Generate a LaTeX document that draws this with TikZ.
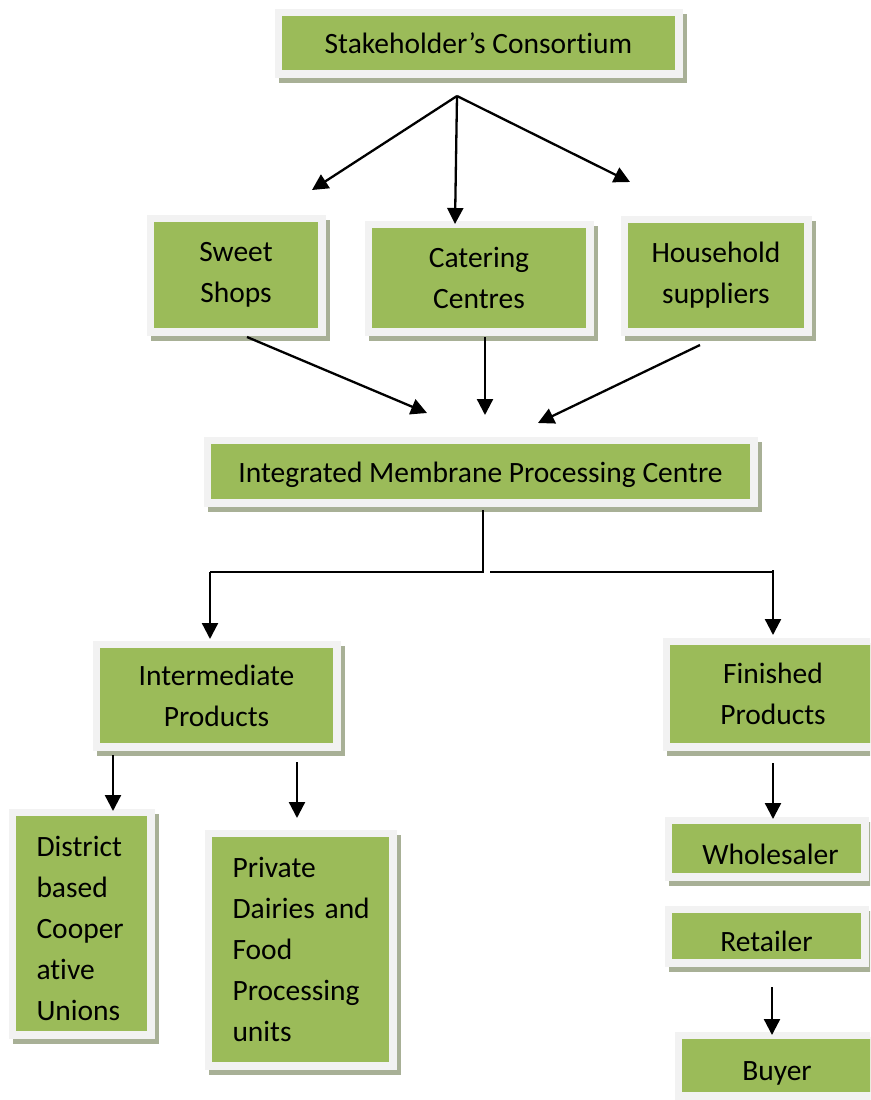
\documentclass[tikz,border=0pt]{standalone}
\usepackage{fontspec}
\setmainfont[Ligatures=NoCommon]{Carlito}
\usetikzlibrary{arrows.meta,shadows}
\definecolor{boxgreen}{RGB}{155,187,89}
\definecolor{framecol}{RGB}{242,242,242}
\definecolor{shadowcol}{RGB}{168,176,150}
\tikzset{
  box/.style 2 args={
    minimum width=#1pt, minimum height=#2pt, inner sep=0pt,
    fill=framecol, align=center,
    font=\fontsize{29.5}{41}\selectfont,
    drop shadow={shadow xshift=4pt, shadow yshift=-5pt, fill=shadowcol, opacity=1},
    path picture={\fill[boxgreen] ([shift={(7.5pt,7.5pt)}]path picture bounding box.south west)
        rectangle ([shift={(-7.5pt,-7.5pt)}]path picture bounding box.north east);}
  },
  lowtext/.style={text height=31pt, text depth=0pt},
  conn/.style={line width=2.3pt, -{Triangle[length=16pt,width=16pt]}},
  plain/.style={line width=2.3pt}
}
\begin{document}
\begin{tikzpicture}[x=1pt,y=-1pt]
\useasboundingbox (0,0) rectangle (870,1100);
\clip (0,0) rectangle (870,1100);
% boxes
\node[box={408}{69}] (stake) at (478.5,43) {Stakeholder’s Consortium};
\node[box={179}{121}] (sweet) at (236,275) {Sweet\\Shops};
\node[box={229}{115}] (cater) at (479,278) {Catering\\Centres};
\node[box={191}{120}] (house) at (716,275.5) {Household\\suppliers};
\node[box={554}{70}, text height=27pt, text depth=6pt] (integ) at (480.5,471.5) {Integrated Membrane Processing Centre};
\node[box={248}{110}] (inter) at (216.5,695.5) {Intermediate\\Products};
\node[box={221}{113}] (fin) at (773,694) {Finished\\Products};
\node[box={204}{64}, lowtext] (whole) at (766.5,848.5) {\hspace{8pt}Wholesaler};
\node[box={204}{61}, lowtext] (ret) at (766.5,936) {Retailer};
\node[box={205}{68}, text height=29pt, text depth=0pt] (buyer) at (777,1065.5) {Buyer};
\node[box={146}{230}, align=left, text width=90pt, text height=31pt] (dist) at (81.5,923.5) {District\\based\\Cooper\\ative\\Unions};
\node[box={192}{240}, align=left, text width=136pt] (priv) at (300.5,949.5) {Private\\Dairies~and\\Food\\Processing\\units};
% connector points
\coordinate (apex) at (457,96);
\coordinate (tsweet) at (312,190);
\coordinate (tcater) at (455,224);
\coordinate (thouse) at (630,182);
\coordinate (ssweet) at (247,337);
\coordinate (scater) at (485,337);
\coordinate (shouse) at (700,345);
\coordinate (ti1) at (427,413);
\coordinate (ti2) at (485,415);
\coordinate (ti3) at (538,423);
\coordinate (sint) at (483,510);
\coordinate (jl) at (483,572);
\coordinate (jr) at (490,572);
\coordinate (cl) at (210,572);
\coordinate (cr) at (773,572);
\coordinate (tinter) at (210,639);
\coordinate (tfin) at (773,635);
\coordinate (sd) at (113,755);
\coordinate (td) at (113,811);
\coordinate (sp) at (297,762);
\coordinate (tp) at (297,818);
\coordinate (sf) at (773,763);
\coordinate (tw) at (773,819);
\coordinate (sr) at (772,987);
\coordinate (tb) at (772,1035);
% connectors
\draw[conn] (apex) -- (tsweet);
\draw[conn] (apex) -- (tcater);
\draw[conn] (apex) -- (thouse);
\draw[conn] (ssweet) -- (ti1);
\draw[conn] (scater) -- (ti2);
\draw[conn] (shouse) -- (ti3);
\draw[plain] (sint) -- (jl) -- (cl);
\draw[conn] (cl) -- (tinter);
\draw[plain] (jr) -- (cr);
\draw[conn] ([yshift=2pt]cr) -- (tfin);
\draw[conn] (sd) -- (td);
\draw[conn] (sp) -- (tp);
\draw[conn] (sf) -- (tw);
\draw[conn] (sr) -- (tb);
\end{tikzpicture}
\end{document}
